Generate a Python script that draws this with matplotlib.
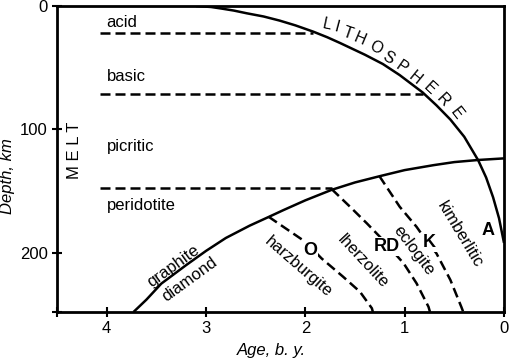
import matplotlib.pyplot as plt

plt.rcParams['font.family'] = ['Liberation Sans', 'DejaVu Sans']

# lithosphere base (age b.y., depth km)
litho_age = [3.1, 2.95, 2.85, 2.72, 2.59, 2.42, 2.26, 2.1, 1.92, 1.78, 1.65,
             1.4, 1.22, 1.05, 0.82, 0.68, 0.54, 0.4, 0.26, 0.18, 0.11, 0.05, 0.0]
litho_depth = [0, 0.8, 2.0, 3.7, 5.9, 8.5, 11.8, 15.7, 20.8, 25.3, 30,
               39.5, 47, 56, 70, 80.5, 92, 106, 125, 139, 155, 172, 192]

# graphite / diamond boundary
gd_age = [3.73, 3.6, 3.45, 3.2, 3.0, 2.8, 2.56, 2.37, 2.22, 2.0, 1.735,
          1.5, 1.255, 1.0, 0.71, 0.5, 0.26, 0.0]
gd_depth = [248, 238, 225, 210, 198.5, 188, 178, 171, 165.4, 157.5, 149,
            143, 138, 133, 129, 126.5, 124.8, 123.5]

# dashed melt boundaries below the graphite-diamond line
o_age = [2.37, 2.0, 1.836, 1.62, 1.45, 1.33, 1.32]
o_depth = [170.8, 191.1, 204.6, 219.4, 231.6, 245, 248]
rd_age = [1.735, 1.55, 1.38, 1.25, 1.01, 0.88, 0.76, 0.745]
rd_depth = [148.4, 162.7, 176.2, 187, 208.6, 224.8, 243.8, 248]
k_age = [1.255, 1.05, 0.88, 0.81, 0.68, 0.54, 0.43, 0.41]
k_depth = [137.8, 162.7, 179, 187, 200.5, 222, 243.8, 248]

# horizontal melt levels: depth, end age
melt_depth = [21.9, 71.3, 147.8]
melt_end = [1.92, 0.82, 1.735]
melt_start = 4.07

fig = plt.figure(figsize=(5.09, 3.63), dpi=100)
ax = fig.add_axes([57 / 509, 1 - 312 / 363, 447 / 509, 306 / 363])

lw = 1.8
ax.plot(litho_age, litho_depth, color='black', lw=lw, solid_capstyle='butt')
ax.plot(gd_age, gd_depth, color='black', lw=lw, solid_capstyle='butt')
for a, d in [(o_age, o_depth), (rd_age, rd_depth), (k_age, k_depth)]:
    ax.plot(a, d, color='black', lw=lw, dashes=(4, 2))
for d, e in zip(melt_depth, melt_end):
    ax.plot([melt_start, e], [d, d], color='black', lw=lw, dashes=(4, 2))

ax.set_xlim(4.5, 0)
ax.set_ylim(248, 0)
ax.set_xticks([4.5, 4, 3, 2, 1, 0])
ax.set_xticklabels(['', '4', '3', '2', '1', '0'])
ax.set_yticks([0, 100, 200, 248])
ax.set_yticklabels(['0', '100', '200', ''])
for s in ax.spines.values():
    s.set_linewidth(2.0)
ax.tick_params(direction='inout', length=7, width=1.5, labelsize=12, pad=3)

fs = 12
# melt labels
for txt, d in [('acid', 13.5), ('basic', 57), ('picritic', 113.5), ('peridotite', 162)]:
    ax.text(4.0, d, txt, fontsize=fs, va='center', ha='left')
ax.text(4.32, 117, 'M E L T', fontsize=12, rotation=90, va='center', ha='center')

# LITHOSPHERE along the curve
letters = ['L', 'I', 'T', 'H', 'O', 'S', 'P', 'H', 'E', 'R', 'E']
lpos = [(1.785, 15.4), (1.68, 17.5), (1.57, 21.9), (1.45, 26.5), (1.29, 34.0),
        (1.17, 42.2), (1.03, 49.5), (0.90, 58.4), (0.745, 67.0), (0.614, 76.0),
        (0.48, 87.0)]
lrot = [-12, -15, -19, -23, -27, -31, -35, -39, -43, -47, -52]
for ch, (x, y), r in zip(letters, lpos, lrot):
    ax.text(x, y, ch, fontsize=11.5, rotation=r, ha='center', va='center')

# phase labels
ax.text(3.33, 211, 'graphite', fontsize=fs, rotation=36, ha='center', va='center')
ax.text(3.16, 222, 'diamond', fontsize=fs, rotation=36, ha='center', va='center')
ax.text(2.07, 211, 'harzburgite', fontsize=fs, rotation=-41, ha='center', va='center')
ax.text(1.42, 207, 'lherzolite', fontsize=fs, rotation=-47, ha='center', va='center')
ax.text(0.91, 198, 'eclogite', fontsize=fs, rotation=-53, ha='center', va='center')
ax.text(0.44, 185.6, 'kimberlitic', fontsize=fs, rotation=-59, ha='center', va='center')

for txt, x, y in [('O', 1.95, 198), ('RD', 1.18, 195), ('K', 0.75, 192)]:
    ax.text(x, y, txt, fontsize=13, fontweight='bold', ha='center', va='center',
            bbox=dict(facecolor='white', edgecolor='none', pad=0.5))
ax.text(0.16, 181.6, 'A', fontsize=13, fontweight='bold', ha='center', va='center')

fig.text(8 / 509, 1 - 176 / 363, 'Depth, km', fontsize=12, style='italic',
         rotation=90, ha='center', va='center')
fig.text(271 / 509, 1 - 350 / 363, 'Age, b. y.', fontsize=12, style='italic',
         ha='center', va='center')

fig.savefig('out.png', dpi=100)
